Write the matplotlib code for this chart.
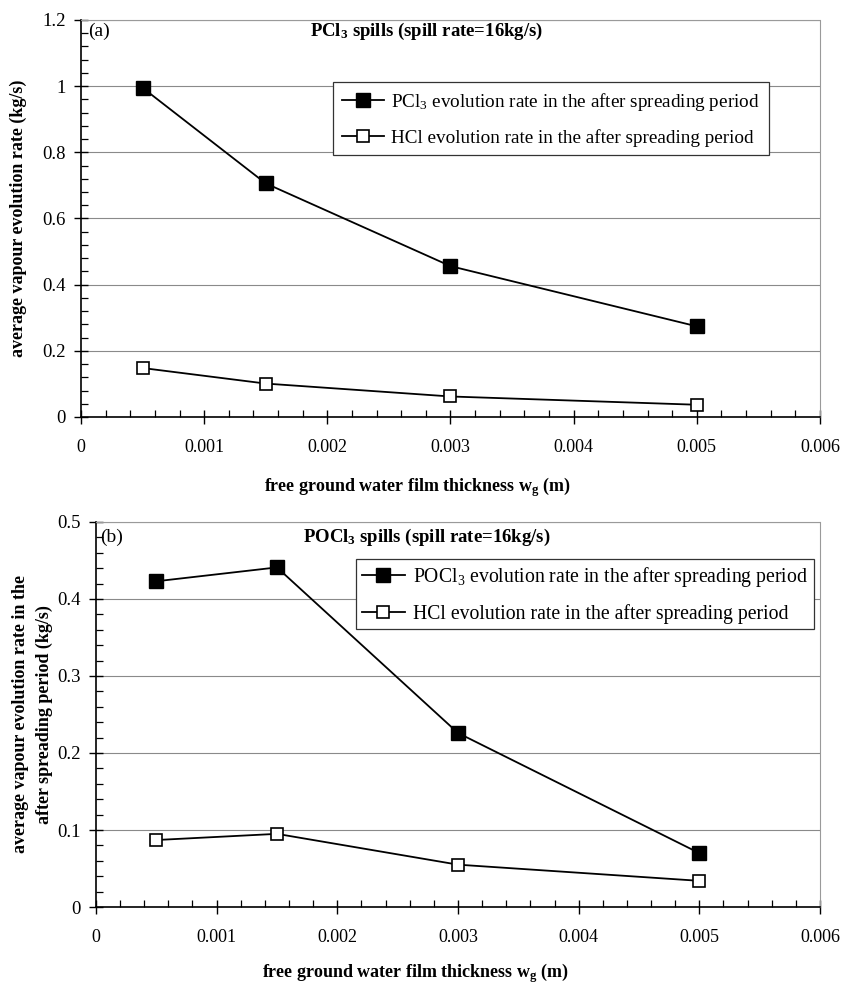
import matplotlib
matplotlib.use("Agg")
import matplotlib.pyplot as plt
from matplotlib.ticker import MultipleLocator, FuncFormatter

plt.rcParams['font.family'] = ['Liberation Serif', 'DejaVu Serif']
plt.rcParams['mathtext.fontset'] = 'custom'
plt.rcParams['mathtext.rm'] = 'Liberation Serif'
plt.rcParams['mathtext.it'] = 'Liberation Serif:italic'
plt.rcParams['mathtext.bf'] = 'Liberation Serif:bold'

# film thickness (m)
wg = [0.0005, 0.0015, 0.003, 0.005]

# (a) PCl3 spills
pcl3_rate = [0.995, 0.706, 0.456, 0.274]
hcl_rate_a = [0.148, 0.101, 0.062, 0.037]

# (b) POCl3 spills
pocl3_rate = [0.423, 0.441, 0.226, 0.070]
hcl_rate_b = [0.087, 0.095, 0.055, 0.034]


def general(v, pos):
    # excel "general" number format
    s = ('%.4f' % v).rstrip('0').rstrip('.')
    return s


def style_axes(ax, ymax, ymajor, yminor):
    ax.set_xlim(0, 0.006)
    ax.set_ylim(0, ymax)
    ax.xaxis.set_major_locator(MultipleLocator(0.001))
    ax.xaxis.set_minor_locator(MultipleLocator(0.0002))
    ax.yaxis.set_major_locator(MultipleLocator(ymajor))
    ax.yaxis.set_minor_locator(MultipleLocator(yminor))
    ax.xaxis.set_major_formatter(FuncFormatter(general))
    ax.yaxis.set_major_formatter(FuncFormatter(general))
    ax.grid(axis='y', which='major', color='#8a8a8a', lw=0.8)
    ax.set_axisbelow(True)
    for s in ['top', 'right']:
        ax.spines[s].set_color('#9a9a9a')
        ax.spines[s].set_linestyle((0, (1, 1)))
        ax.spines[s].set_linewidth(0.8)
    for s in ['left', 'bottom']:
        ax.spines[s].set_color('black')
        ax.spines[s].set_linewidth(1.2)
    ax.tick_params(axis='y', which='major', direction='inout', length=10,
                   width=1.0, labelsize=13.5, pad=6)
    ax.tick_params(axis='y', which='minor', direction='in', length=5, width=0.9)
    ax.tick_params(axis='x', which='major', direction='inout', length=10,
                   width=1.0, labelsize=13, pad=11)
    ax.tick_params(axis='x', which='minor', direction='in', length=5, width=0.9)


def draw(ax, y1, y2, lab1, lab2):
    ax.plot(wg, y1, color='black', lw=1.3, marker='s', ms=9.5,
            mfc='black', mec='black', label=lab1)
    ax.plot(wg, y2, color='black', lw=1.3, marker='s', ms=8,
            mfc='white', mec='black', mew=1.2, label=lab2)


fig = plt.figure(figsize=(8.41, 9.83), dpi=100)

ax1 = fig.add_axes([0.0963, 0.5758, 0.8787, 0.4039])
draw(ax1, pcl3_rate, hcl_rate_a,
     'PCl$_3$ evolution rate in the after spreading period',
     'HCl evolution rate in the after spreading period')
style_axes(ax1, 1.2, 0.2, 0.04)
leg1 = ax1.legend(loc='upper left', bbox_to_anchor=(0.341, 0.844), fontsize=13.8,
                  frameon=True, fancybox=False, edgecolor='#333333',
                  framealpha=1, numpoints=1, handlelength=2.2,
                  borderpad=0.45, labelspacing=0.85, handletextpad=0.4,
                  borderaxespad=0)
leg1.get_frame().set_linewidth(0.9)
ax1.text(0.009, 0.972, '(a)', transform=ax1.transAxes, fontsize=14,
         ha='left', va='center')
ax1.text(0.31, 0.972, r'PCl$_\mathbf{3}$ spills (spill rate=16kg/s)',
         transform=ax1.transAxes, fontsize=13.5, fontweight='bold',
         ha='left', va='center')
ax1.set_xlabel(r'free ground water film thickness w$_\mathbf{g}$ (m)',
               fontsize=13, fontweight='bold')
ax1.xaxis.set_label_coords(0.456, -0.176)
ax1.xaxis.label.set_va('center')
ax1.set_ylabel('average vapour evolution rate (kg/s)', fontsize=13,
               fontweight='bold')
ax1.yaxis.set_label_coords(-0.085, 0.5)
ax1.yaxis.label.set_va('center')

ax2 = fig.add_axes([0.1141, 0.0773, 0.8609, 0.3917])
draw(ax2, pocl3_rate, hcl_rate_b,
     'POCl$_3$ evolution rate in the after spreading period',
     'HCl evolution rate in the after spreading period')
style_axes(ax2, 0.5, 0.1, 0.02)
leg2 = ax2.legend(loc='upper left', bbox_to_anchor=(0.359, 0.904), fontsize=14.2,
                  frameon=True, fancybox=False, edgecolor='#333333',
                  framealpha=1, numpoints=1, handlelength=2.2,
                  borderpad=0.3, labelspacing=0.75, handletextpad=0.4,
                  borderaxespad=0)
leg2.get_frame().set_linewidth(0.9)
ax2.text(0.006, 0.961, '(b)', transform=ax2.transAxes, fontsize=14,
         ha='left', va='center')
ax2.text(0.286, 0.961, r'POCl$_\mathbf{3}$ spills (spill rate=16kg/s)',
         transform=ax2.transAxes, fontsize=13.5, fontweight='bold',
         ha='left', va='center')
ax2.set_xlabel(r'free ground water film thickness w$_\mathbf{g}$ (m)',
               fontsize=13, fontweight='bold')
ax2.xaxis.set_label_coords(0.441, -0.171)
ax2.xaxis.label.set_va('center')
ax2.set_ylabel('average vapour evolution rate in the\nafter spreading period (kg/s)',
               fontsize=13, fontweight='bold', linespacing=1.5)
ax2.yaxis.set_label_coords(-0.088, 0.5)
ax2.yaxis.label.set_va('center')

fig.savefig('out.png', dpi=100)
